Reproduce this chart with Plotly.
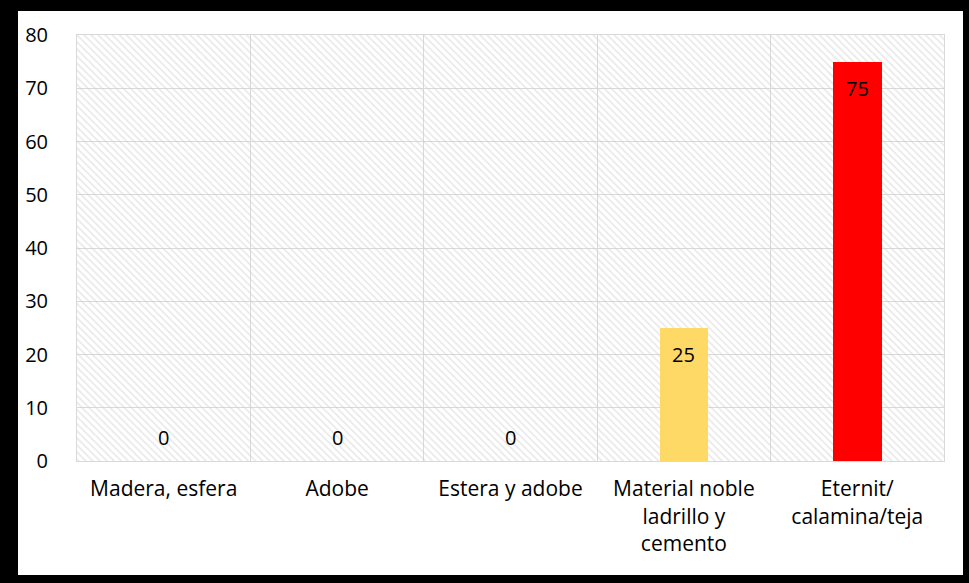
import plotly.graph_objects as go

categories = ["Madera, esfera", "Adobe", "Estera y adobe",
              "Material noble<br>ladrillo y<br>cemento", "Eternit/<br>calamina/teja"]
values = [0, 0, 0, 25, 75]
bar_colors = ["#FFD966", "#FFD966", "#FFD966", "#FFD966", "#FF0000"]
y_ticks = [0, 10, 20, 30, 40, 50, 60, 70, 80]
y_max = 80

FONT = "Open Sans"

fig = go.Figure()
# hatched plot background
fig.add_trace(go.Bar(
    x=categories, y=[y_max] * len(categories), width=1,
    marker=dict(color="rgba(0,0,0,0)", line=dict(width=0),
                pattern=dict(shape="\\", fgcolor="#cfcfcf", size=5, solidity=0.3)),
    hoverinfo="skip", showlegend=False,
))
fig.add_trace(go.Bar(
    x=categories, y=values, width=0.28,
    marker=dict(color=bar_colors, line=dict(width=0)),
    showlegend=False,
))

for c, v in zip(categories, values):
    fig.add_annotation(x=c, y=v, text=str(v), showarrow=False,
                       yanchor="middle", yshift=(24 if v == 0 else -27),
                       font=dict(size=20, color="black", family=FONT))

# black frame with white card
fig.add_shape(type="rect", xref="paper", yref="paper",
              x0=(18 - 77) / 867, x1=(963 - 77) / 867,
              y0=(461 - 575) / 426, y1=(461 - 11) / 426,
              fillcolor="white", line=dict(width=0), layer="below")

fig.update_layout(
    width=969, height=583,
    margin=dict(l=77, r=969 - 944, t=35, b=583 - 461),
    paper_bgcolor="black", plot_bgcolor="white",
    barmode="overlay", bargap=0,
    font=dict(family=FONT, size=20, color="black"),
)
fig.update_xaxes(tickson="boundaries", showgrid=True, gridcolor="#d9d9d9",
                 showline=True, linecolor="#d9d9d9", mirror=True, ticks="",
                 tickfont=dict(size=21, family=FONT), range=[-0.5, 4.5],
                 ticklabelstandoff=9)
fig.update_yaxes(range=[0, y_max], tickvals=y_ticks, showgrid=True,
                 gridcolor="#d9d9d9", showline=True, linecolor="#d9d9d9",
                 mirror=True, ticks="", zeroline=False,
                 tickfont=dict(size=20, family=FONT), ticklabelstandoff=24)

fig.write_html("out.html")
